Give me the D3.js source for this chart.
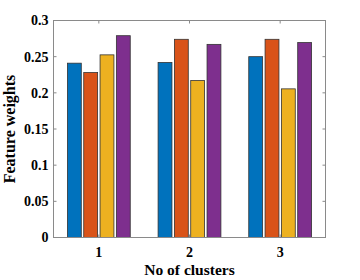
<!DOCTYPE html>
<html>
<head>
<meta charset="utf-8">
<script src="https://cdn.jsdelivr.net/npm/d3@7"></script>
<style>
  body { margin: 0; background: #fff; }
  svg text { font-family: "Liberation Serif", "Times New Roman", serif; font-weight: bold; fill: #000; }
</style>
</head>
<body>
<svg width="360" height="280"></svg>
<script>
// cluster groups and the four feature series
const clusters = [1, 2, 3];
const feature1 = [0.241, 0.242, 0.250];
const feature2 = [0.228, 0.274, 0.274];
const feature3 = [0.2525, 0.217, 0.2055];
const feature4 = [0.279, 0.267, 0.2695];
const yTicks = [0, 0.05, 0.1, 0.15, 0.2, 0.25, 0.3];
const colors = ["#0072BD", "#D95319", "#EDB120", "#7E2F8E"];

const series = [feature1, feature2, feature3, feature4];

const svg = d3.select('svg');
const mLeft = 53.5, mRight = 325.5, mTop = 20.5, mBottom = 237.5;

const x = d3.scaleLinear().domain([0.5, 3.5]).range([mLeft, mRight]);
const y = d3.scaleLinear().domain([0, 0.3]).range([mBottom, mTop]);

// bar placement inside a group (MATLAB-ish grouped bars)
const barStep = x(1.18) - x(1);
const barW = barStep * 0.85;

const g = svg.append('g');
series.forEach(function(vals, i) {
  g.selectAll('rect.s' + i)
    .data(clusters)
    .join('rect')
    .attr('class', 's' + i)
    .attr('x', d => x(d) + (i - 1.5) * barStep - barW / 2)
    .attr('y', (d, j) => y(vals[j]))
    .attr('width', barW)
    .attr('height', (d, j) => y(0) - y(vals[j]))
    .attr('fill', colors[i])
    .attr('stroke', '#333')
    .attr('stroke-width', 0.8);
});

// box + ticks
const axColor = '#8a8a8a';
svg.append('rect')
  .attr('x', mLeft).attr('y', mTop)
  .attr('width', mRight - mLeft).attr('height', mBottom - mTop)
  .attr('fill', 'none').attr('stroke', axColor).attr('stroke-width', 1);

const tl = 3;
yTicks.forEach(function(t) {
  svg.append('line').attr('x1', mLeft).attr('x2', mLeft + tl)
    .attr('y1', y(t)).attr('y2', y(t)).attr('stroke', axColor);
  svg.append('line').attr('x1', mRight).attr('x2', mRight - tl)
    .attr('y1', y(t)).attr('y2', y(t)).attr('stroke', axColor);
  svg.append('text')
    .attr('x', mLeft - 5).attr('y', y(t))
    .attr('dy', '0.35em')
    .attr('text-anchor', 'end')
    .attr('font-size', 14)
    .text(String(t));
});

clusters.forEach(function(c) {
  svg.append('line').attr('x1', x(c)).attr('x2', x(c))
    .attr('y1', mBottom).attr('y2', mBottom - tl).attr('stroke', axColor);
  svg.append('line').attr('x1', x(c)).attr('x2', x(c))
    .attr('y1', mTop).attr('y2', mTop + tl).attr('stroke', axColor);
  svg.append('text')
    .attr('x', x(c)).attr('y', 257)
    .attr('text-anchor', 'middle')
    .attr('font-size', 14)
    .text(c);
});

// axis titles
svg.append('text')
  .attr('x', (mLeft + mRight) / 2).attr('y', 275)
  .attr('text-anchor', 'middle')
  .attr('font-size', 15.5)
  .text('No of clusters');

svg.append('text')
  .attr('transform', 'translate(15,' + ((mTop + mBottom) / 2) + ') rotate(-90)')
  .attr('text-anchor', 'middle')
  .attr('font-size', 16)
  .text('Feature weights');
</script>
</body>
</html>
